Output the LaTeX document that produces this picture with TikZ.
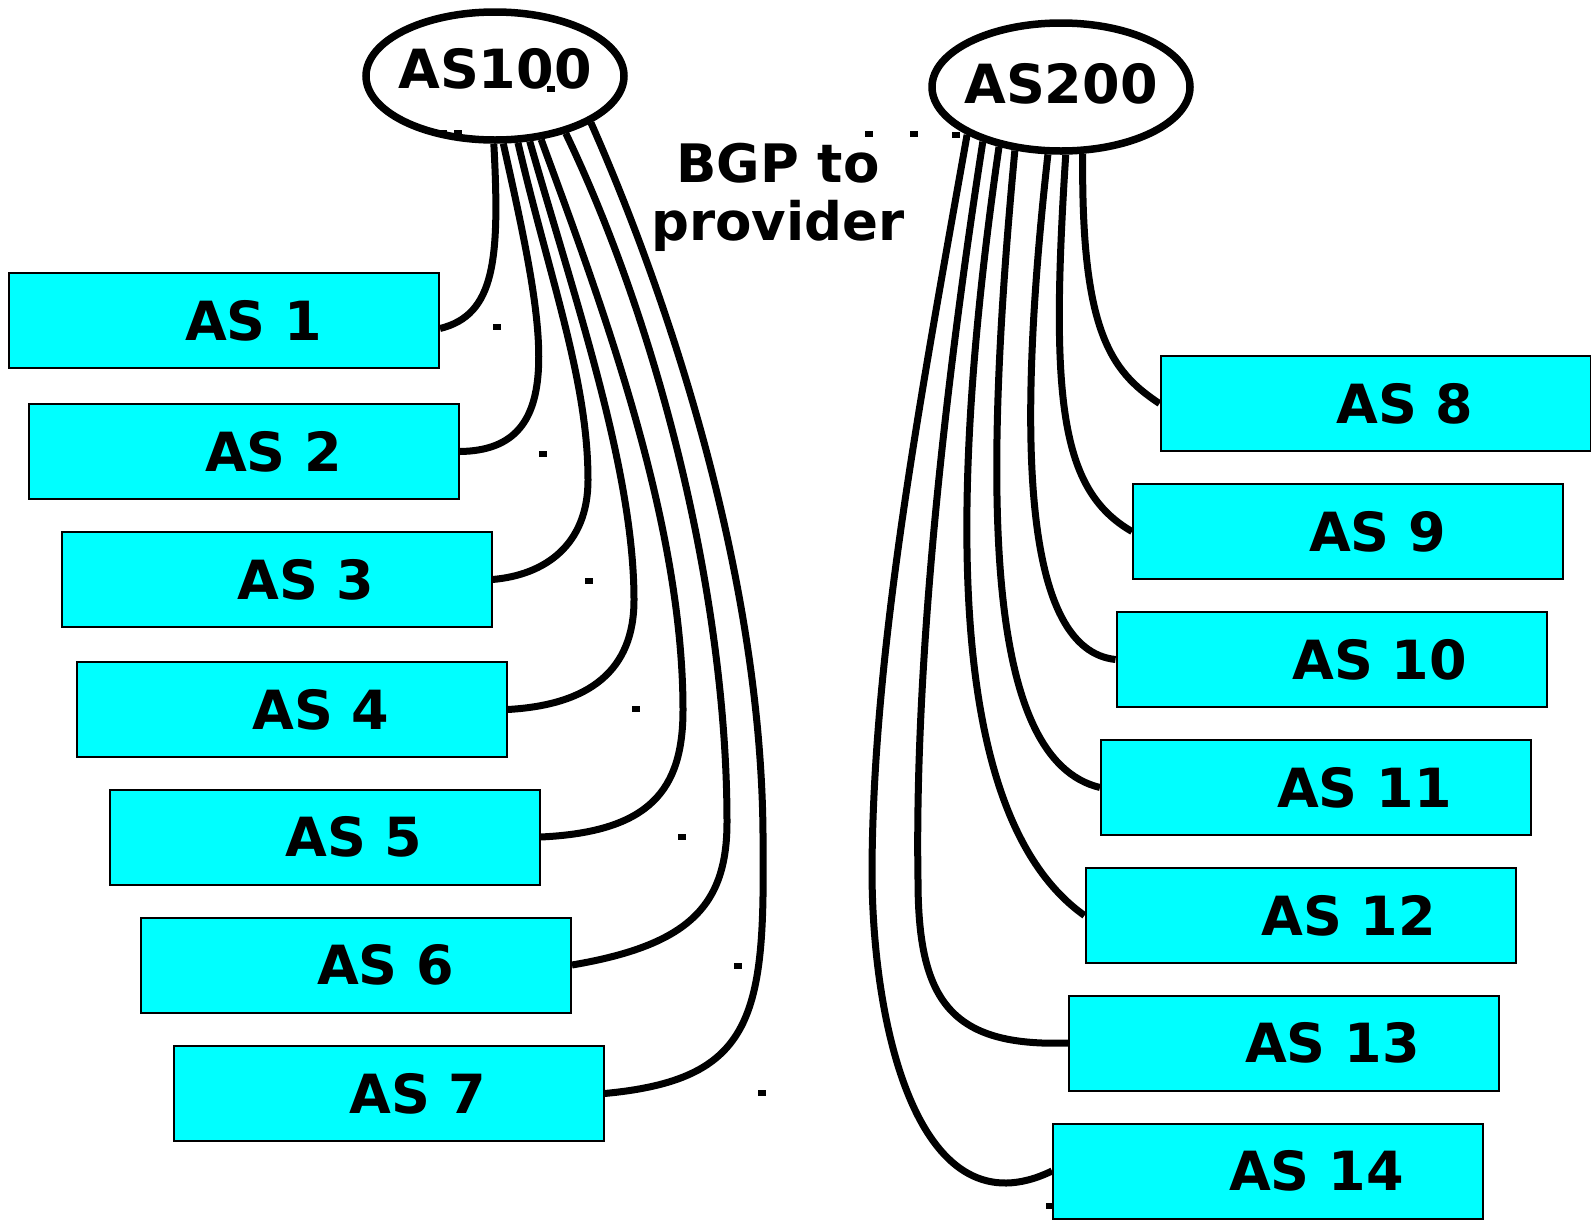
\documentclass[tikz,border=0pt]{standalone}
\usepackage{fontspec}
\setmainfont{DejaVu Sans}
\usepackage{tikz}
\usetikzlibrary{shapes}

\definecolor{ascyan}{RGB}{0,255,255}
\newcommand{\astext}[1]{\makebox[78pt][l]{#1}}

\begin{document}
\begin{tikzpicture}[x=1pt,y=-1pt,
  asbox/.style={draw=black,fill=ascyan,line width=2pt,minimum width=430pt,minimum height=95pt,inner sep=0pt,font=\fontsize{54}{60}\selectfont\bfseries},
  asnode/.style={ellipse,draw=black,line width=7.5pt,minimum width=258pt,minimum height=128pt,inner sep=0pt,font=\fontsize{54}{60}\selectfont\bfseries},
  link/.style={line width=7pt,line cap=butt}]

\useasboundingbox (0,0) rectangle (1591,1221);

%the two providers
\node[asnode] (as100) at (495,76) {\makebox[150pt]{\raisebox{7pt}[\height][\depth]{AS100}}};
\node[asnode] (as200) at (1061,87) {\makebox[150pt]{\raisebox{3pt}[\height][\depth]{AS200}}};

\node[align=center,font=\fontsize{53}{58}\selectfont\bfseries] (bgp) at (778,197) {BGP to\\provider};

%customers of AS100
\node[asbox] (as1) at (224,320.5) {\astext{AS 1}};
\node[asbox] (as2) at (244,451.5) {\astext{AS 2}};
\node[asbox] (as3) at (276.5,579.5) {\astext{AS 3}};
\node[asbox] (as4) at (291.5,709.5) {\astext{AS 4}};
\node[asbox] (as5) at (324.5,837) {\astext{AS 5}};
\node[asbox] (as6) at (356,965) {\astext{AS 6}};
\node[asbox] (as7) at (388.5,1093.5) {\astext{AS 7}};

%customers of AS200
\node[asbox] (as8) at (1375.5,403.5) {\astext{AS 8}};
\node[asbox] (as9) at (1348,531.5) {\astext{AS 9}};
\node[asbox] (as10) at (1331.5,659.5) {\astext{AS 10}};
\node[asbox] (as11) at (1316,787.5) {\astext{AS 11}};
\node[asbox] (as12) at (1300.5,915.5) {\astext{AS 12}};
\node[asbox] (as13) at (1284,1043) {\astext{AS 13}};
\node[asbox] (as14) at (1268,1171) {\astext{AS 14}};

%links down from AS100
\draw[link] (as100.-91) .. controls (500,260) and (495,315) .. ([yshift=-8pt]as1.east);
\draw[link] (as100.-83) .. controls (545,330) and (570,450) .. (as2.east);
\draw[link] (as100.-71) .. controls (550,280) and (588,380) .. (588,480)
   .. controls (588,545) and (545,575) .. (as3.east);
\draw[link] (as100.-62) .. controls (575,300) and (634,470) .. (634,600)
   .. controls (634,670) and (590,705) .. (as4.east);
\draw[link] (as100.-54.5) .. controls (600,300) and (683,520) .. (683,710)
   .. controls (683,790) and (650,832) .. (as5.east);
\draw[link] (as100.-39) .. controls (660,330) and (727,600) .. (727,822)
   .. controls (727,905) and (690,945) .. (as6.east);
\draw[link] (as100.-26) .. controls (665,290) and (765,580) .. (763,850)
   .. controls (765,1020) and (750,1080) .. (as7.east);

%links down from AS200
\draw[link] (as200.-72.7) .. controls (1081,330) and (1110,371) .. (as8.west);
\draw[link] (as200.-86.5) .. controls (1050,400) and (1060,490) .. (as9.west);
\draw[link] (as200.-101.4) .. controls (1015,450) and (1025,650) .. (as10.west);
\draw[link] (as200.-126.5) .. controls (982,500) and (985,760) .. (as11.west);
\draw[link] (as200.-136.8) .. controls (945,520) and (950,820) .. (as12.west);
\draw[link] (as200.-145.9) .. controls (935,450) and (915,700) .. (918,880)
   .. controls (918,1000) and (950,1047) .. (as13.west);
\draw[link] (as200.-153.1) .. controls (920,400) and (873,650) .. (872,870)
   .. controls (872,1030) and (920,1235) .. (as14.west);

%little marks
\foreach \x/\y in {497/327,543/454,589/581,636/709,682/837,738/966,762/1093,
   869/134,914/134,956/135,443/133,458/133,551/89,1050/1206}
  \fill (\x,\y) ++(-4,-3) rectangle ++(8,6);

\end{tikzpicture}
\end{document}
